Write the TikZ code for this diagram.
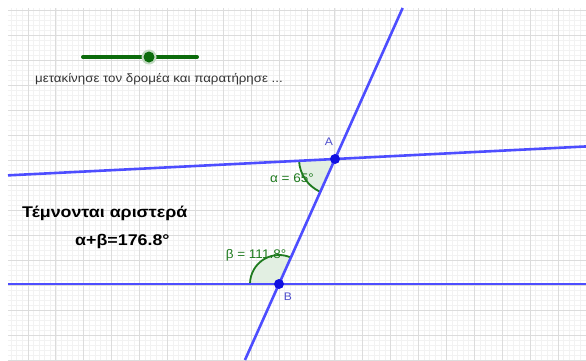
\documentclass[tikz,border=0pt]{standalone}
\usepackage{fontspec}
\setmainfont{Liberation Sans}
\definecolor{lineblue}{HTML}{4D4DFF}
\definecolor{ptblue}{HTML}{1010E0}
\definecolor{lblblue}{HTML}{4D4DCC}
\definecolor{anggreen}{HTML}{1E7A1E}
\definecolor{angfillc}{HTML}{E2EFE2}
\definecolor{slidergreen}{HTML}{0B6B0B}
\definecolor{txtgray}{HTML}{333333}
\definecolor{minorc}{HTML}{F2F2F2}
\definecolor{majorc}{HTML}{DCDCDC}
\tikzset{
  minorgrid/.style={draw=minorc,line width=0.6pt},
  majorgrid/.style={draw=majorc,line width=0.8pt},
  geoline/.style={draw=lineblue,line width=2.6pt},
  geopoint/.style={circle,fill=ptblue,inner sep=0pt,minimum size=10pt},
  ptlabel/.style={text=lblblue,font=\fontsize{11}{12}\selectfont,xscale=1.1},
  anglabel/.style={text=anggreen,font=\fontsize{12.5}{14}\selectfont,xscale=1.08},
  angwedge/.style={fill=angfillc},
  angarc/.style={draw=anggreen,line width=1.8pt},
  sliderline/.style={draw=slidergreen,line width=4pt,line cap=round},
  boldtext/.style={font=\fontsize{15.5}{17}\selectfont\bfseries,text=black,xscale=1.15}
}
\begin{document}
\begin{tikzpicture}[x=1pt,y=-1pt]
\useasboundingbox (0,0) rectangle (586,360);
\fill[white] (0,0) rectangle (586,360);
\begin{scope}
\clip (8,8) rectangle (586,360);
\foreach \i in {2,...,105} \draw[minorgrid] ({5.58*\i},8) -- ({5.58*\i},360);
\foreach \j in {0,...,70} \draw[minorgrid] (8,{10+5*\j}) -- (586,{10+5*\j});
\foreach \k in {1,...,21} \draw[majorgrid] ({27.9*\k},8) -- ({27.9*\k},360);
\foreach \k in {0,...,14} \draw[majorgrid] (8,{10+25*\k}) -- (586,{10+25*\k});
\end{scope}

\coordinate (A) at (335,159);
\coordinate (B) at (279,284);
\coordinate (L1) at (8,175.35);
\coordinate (R1) at (586,146.45);
\coordinate (L2) at (8,284);
\coordinate (R2) at (586,284);
\coordinate (T) at (402.65,8);
\coordinate (Bt) at (244.95,360);

% angle alpha at A
\fill[angwedge] (A) -- ++(114.13:36) arc[start angle=114.13,end angle=177.15,radius=36] -- cycle;
\draw[angarc] (A) ++(114.13:36) arc[start angle=114.13,end angle=177.15,radius=36];
% angle beta at B
\fill[angwedge] (B) -- ++(180:29) arc[start angle=180,end angle=294.13,radius=29] -- cycle;
\draw[angarc] (B) ++(180:29) arc[start angle=180,end angle=294.13,radius=29];

\draw[geoline] (L1) -- (R1);
\draw[geoline] (L2) -- (R2);
\draw[geoline] (T) -- (Bt);

\node[geopoint] (PA) at (A) {};
\node[geopoint] (PB) at (B) {};
\node[ptlabel] (lA) at (329,142) {A};
\node[ptlabel] (lB) at (288,297) {B};
\node[anglabel] (la) at (292,178) {α = 65°};
\node[anglabel] (lb) at (256,255) {β = 111.8°};

% slider
\coordinate (S1) at (83,57);
\coordinate (S2) at (197,57);
\draw[sliderline] (S1) -- (S2);
\fill[slidergreen!25] (149,57) circle[radius=7.5pt];
\node[circle,fill=slidergreen,inner sep=0pt,minimum size=11pt] (knob) at (149,57) {};
\node[text=txtgray,font=\fontsize{12}{13}\selectfont,xscale=1.11,anchor=west,inner sep=0pt] (hint) at (35,79) {μετακίνησε τον δρομέα και παρατήρησε ...};

\node[boldtext,anchor=west,inner sep=0pt] (t1) at (22,213) {Τέμνονται αριστερά};
\node[boldtext,anchor=west,inner sep=0pt] (t2) at (75,241.5) {α+β=176.8°};
\end{tikzpicture}
\end{document}
